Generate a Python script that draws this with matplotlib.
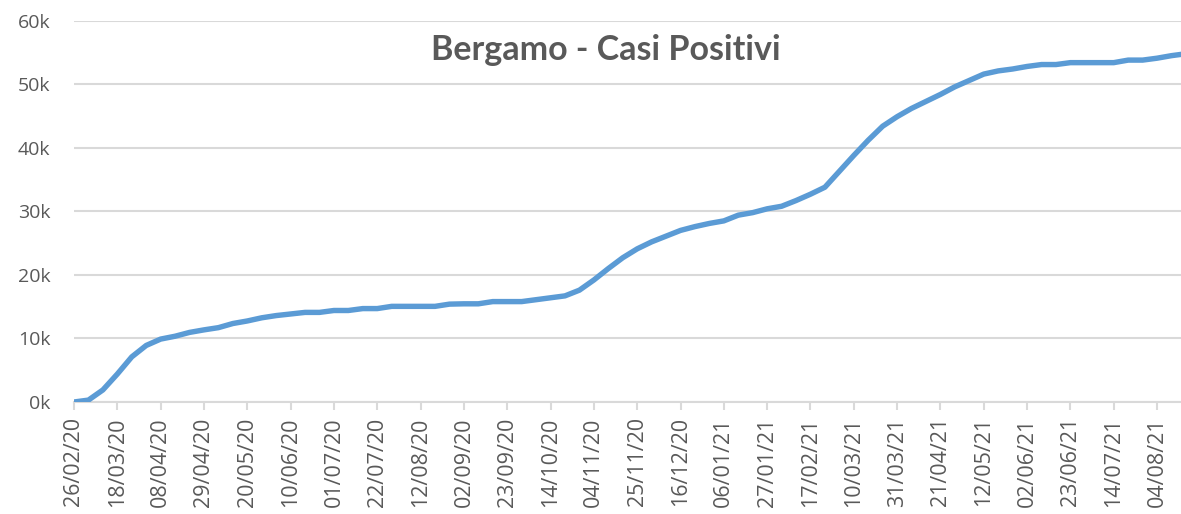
import matplotlib
matplotlib.use("Agg")
import matplotlib.pyplot as plt
import matplotlib.dates as mdates
import pandas as pd
import numpy as np

plt.rcParams['font.family'] = ['Open Sans', 'DejaVu Sans']

start_date = "2020-02-26"
n_weeks = 78
dates = pd.date_range(start_date, periods=n_weeks, freq="7D")

# Cumulative positive cases (thousands), weekly readings
cases_k = [0.0, 0.3, 1.9, 4.4, 7.1, 8.9, 9.9, 10.35, 10.95, 11.35,
           11.7, 12.35, 12.75, 13.25, 13.6, 13.85, 14.1, 14.1, 14.4, 14.4,
           14.7, 14.7, 15.05, 15.05, 15.05, 15.05, 15.4, 15.45, 15.45, 15.8,
           15.8, 15.8, 16.1, 16.4, 16.7, 17.6, 19.2, 21.0, 22.7, 24.1,
           25.2, 26.1, 27.0, 27.6, 28.1, 28.5, 29.4, 29.8, 30.4, 30.8,
           31.7, 32.7, 33.8, 36.3, 38.8, 41.2, 43.4, 44.9, 46.2, 47.3,
           48.4, 49.6, 50.6, 51.6, 52.1, 52.4, 52.8, 53.1, 53.1, 53.4,
           53.4, 53.4, 53.4, 53.8, 53.8, 54.1, 54.5, 54.8]
cases = np.array(cases_k) * 1000

title = "Bergamo - Casi Positivi"
y_ticks = [0, 10000, 20000, 30000, 40000, 50000, 60000]
y_tick_labels = ["0k", "10k", "20k", "30k", "40k", "50k", "60k"]
x_ticks = pd.date_range(start_date, periods=26, freq="21D")

text_color = "#595959"
grid_color = "#d9d9d9"
line_color = "#5B9BD5"

fig = plt.figure(figsize=(11.81, 5.14), dpi=100)
ax = fig.add_axes([74/1181, 1-402/514, 1-74/1181, (402-20.7)/514])

ax.plot(dates, cases, color=line_color, linewidth=3.9, solid_joinstyle="round",
        solid_capstyle="butt", zorder=3, clip_on=True)

ax.set_ylim(0, 60000)
ax.set_xlim(pd.Timestamp(start_date), pd.Timestamp(start_date) + pd.Timedelta(days=536.6))
ax.set_yticks(y_ticks)
ax.set_yticklabels(y_tick_labels)
ax.set_xticks(x_ticks)
ax.xaxis.set_major_formatter(mdates.DateFormatter("%d/%m/%y"))

ax.grid(axis="y", color=grid_color, linewidth=1.5, zorder=0)
ax.set_axisbelow(True)
for s in ["left", "right", "top"]:
    ax.spines[s].set_visible(False)
ax.spines["bottom"].set_color(grid_color)
ax.spines["bottom"].set_linewidth(1.5)

ax.tick_params(axis="y", length=0, pad=17, labelsize=14, labelcolor=text_color)
ax.tick_params(axis="x", length=6, width=1.5, color=grid_color, pad=5,
               labelsize=15.5, labelcolor=text_color, labelrotation=90)

fig.text(606/1181, 1-50/514, title, ha="center", va="center",
         fontsize=24.5, fontweight="bold", color=text_color,
         family=['Lato', 'DejaVu Sans'])

fig.savefig("out.png", dpi=100)
